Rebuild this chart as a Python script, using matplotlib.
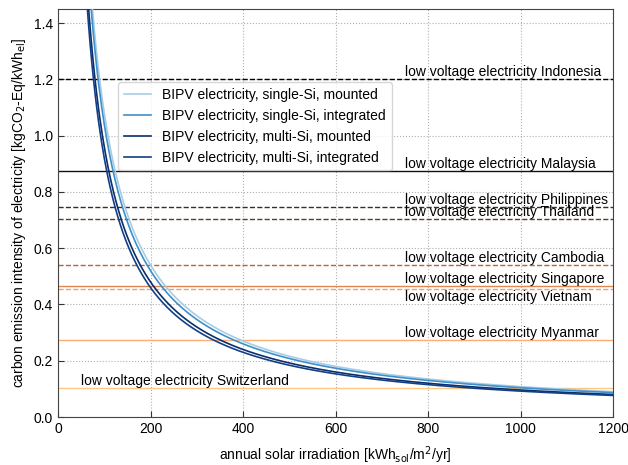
#!/usr/bin/env python3
"""
BIPV electricity carbon intensity vs. annual solar irradiation, compared
with low-voltage grid electricity of several countries.
"""
import numpy as np
import matplotlib
matplotlib.use('Agg')
import matplotlib.pyplot as plt

plt.rcParams['font.family'] = ['Liberation Sans', 'DejaVu Sans']

# life-cycle emissions per m2 of module, as kgCO2-Eq*kWh_sol/m2/yr per kWh_el
# (carbon intensity = constant / irradiation)
bipv_labels = ['BIPV electricity, single-Si, mounted',
               'BIPV electricity, single-Si, integrated',
               'BIPV electricity, multi-Si, mounted',
               'BIPV electricity, multi-Si, integrated']
bipv_const = [108.0, 104.0, 96.0, 92.0]
bipv_colors = ['#a6cde6', '#3f8fc8', '#0b2f6b', '#123f88']

# grid electricity, kgCO2-Eq/kWh_el
grid_countries = ['Indonesia', 'Malaysia', 'Philippines', 'Thailand', 'Cambodia',
                  'Singapore', 'Vietnam', 'Myanmar', 'Switzerland']
grid_values = [1.200, 0.873, 0.746, 0.704, 0.542, 0.466, 0.455, 0.274, 0.104]
grid_styles = ['--', '-', '--', '--', '--', '-', '--', '-', '-']
grid_colors = ['#000000', '#111111', '#432b1b', '#5e3b25', '#b3663a',
               '#df8655', '#f99d66', '#ffae70', '#ffc880']
label_x = [750, 750, 750, 750, 750, 750, 750, 750, 50]
label_va = ['bottom', 'bottom', 'bottom', 'bottom', 'bottom',
            'bottom', 'top', 'bottom', 'bottom']

irradiation = np.linspace(40, 1200, 600)

fig = plt.figure(figsize=(6.28, 4.65), dpi=100)
ax = fig.add_axes([0.0924, 0.1032, 0.8838, 0.8774])

for name, val, ls, col, lx, va in zip(grid_countries, grid_values, grid_styles,
                                      grid_colors, label_x, label_va):
    ax.axhline(val, color=col, linestyle=ls, linewidth=1.0, zorder=2)
    ax.text(lx, val - 0.004 if va == 'top' else val,
            f'low voltage electricity {name}', fontsize=10, va=va, ha='left',
            zorder=4)

for lab, k, col in zip(bipv_labels, bipv_const, bipv_colors):
    ax.plot(irradiation, k / irradiation, color=col, linewidth=1.2,
            label=lab, zorder=3)

ax.set_xlim(0, 1200)
ax.set_ylim(0, 1.45)
ax.set_xticks(np.arange(0, 1201, 200))
ax.set_yticks(np.arange(0, 1.41, 0.2))
ax.grid(True, linestyle=':', color='#b0b0b0', linewidth=0.8)
ax.tick_params(direction='in', labelsize=10, length=4, color='#333333')
for sp in ax.spines.values():
    sp.set_color('#444444')

ax.set_xlabel('annual solar irradiation [kWh$_{\\mathrm{sol}}$/m$^2$/yr]',
              fontsize=10, labelpad=6)
ax.set_ylabel('carbon emission intensity of electricity '
              '[kgCO$_2$-Eq/kWh$_{\\mathrm{el}}$]', fontsize=10)

ax.legend(loc='upper left', bbox_to_anchor=(0.108, 0.82), borderaxespad=0,
          fontsize=10, framealpha=0.8, edgecolor='#cccccc')

fig.savefig('out.png', dpi=100, facecolor='white')
